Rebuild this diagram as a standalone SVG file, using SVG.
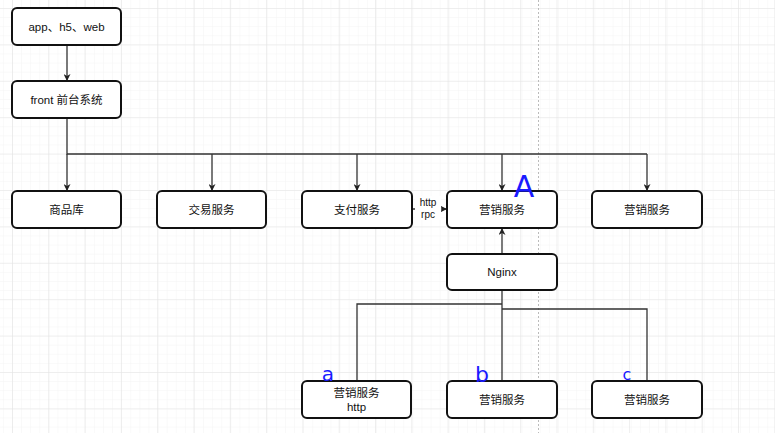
<svg xmlns="http://www.w3.org/2000/svg" width="775" height="433" viewBox="0 0 775 433">
<defs>
<pattern id="minor" x="12" y="8" width="9.1" height="9.1" patternUnits="userSpaceOnUse">
<path d="M0 0H9.1M0 0V9.1" fill="none" stroke="#f4f4f4" stroke-width="1"/>
</pattern>
<pattern id="major" x="12" y="8" width="36.3" height="36.4" patternUnits="userSpaceOnUse">
<path d="M0 0H36.3M0 0V36.4" fill="none" stroke="#e4e4e4" stroke-width="1.2"/>
</pattern>
<marker id="arr" viewBox="0 0 10 10" refX="10" refY="5" markerWidth="7" markerHeight="7" markerUnits="userSpaceOnUse" orient="auto">
<path d="M0 0L10 5L0 10L3 5Z" fill="#222"/>
</marker>
</defs>
<style>
.box{fill:#fff;stroke:#111;stroke-width:2}
.lbl{font-family:"Liberation Sans","Noto Sans CJK SC",sans-serif;font-size:11.5px;fill:#111;text-anchor:middle;dominant-baseline:central}
.small{font-size:10px}
.ln{fill:none;stroke:#333;stroke-width:1.3}
.arrow{marker-end:url(#arr)}
.hand{font-family:"DejaVu Sans",sans-serif;fill:#1a1aff;text-anchor:middle}
</style>
<rect width="775" height="433" fill="#fff"/>
<rect width="775" height="433" fill="url(#minor)"/>
<rect width="775" height="433" fill="url(#major)"/>
<line x1="538.5" y1="0" x2="538.5" y2="433" stroke="#bbb" stroke-width="1" stroke-dasharray="2,2"/>

<g id="connectors">
<path class="ln arrow" d="M67 45V81"/>
<path class="ln" d="M67 118V154H647"/>
<path class="ln arrow" d="M67 154V191"/>
<path class="ln arrow" d="M212 154V191"/>
<path class="ln arrow" d="M357 154V191"/>
<path class="ln arrow" d="M502 154V191"/>
<path class="ln arrow" d="M647 154V191"/>
<path class="ln arrow" d="M412 209H447"/>
<rect x="415" y="196" width="26" height="24" fill="#fff"/>
<text class="lbl small" x="428" y="202">http</text>
<text class="lbl small" x="428" y="214">rpc</text>
<path class="ln arrow" d="M502 254V228"/>
<path class="ln" d="M502 290V381"/>
<path class="ln" d="M502 304H357V381"/>
<path class="ln" d="M502 309H647V381"/>
</g>

<g id="n-client"><rect class="box" x="12" y="8" width="109" height="37" rx="5"/><text class="lbl" x="66.5" y="26.5">app、h5、web</text></g>
<g id="n-front"><rect class="box" x="12" y="81" width="109" height="37" rx="5"/><text class="lbl" x="66.5" y="99.5">front 前台系统</text></g>
<g id="n-goods"><rect class="box" x="12" y="191" width="109" height="37" rx="5"/><text class="lbl" x="66.5" y="209.5">商品库</text></g>
<g id="n-trade"><rect class="box" x="157" y="191" width="109" height="37" rx="5"/><text class="lbl" x="211.5" y="209.5">交易服务</text></g>
<g id="n-pay"><rect class="box" x="302" y="191" width="110" height="37" rx="5"/><text class="lbl" x="357" y="209.5">支付服务</text></g>
<g id="n-mkt-a"><rect class="box" x="447" y="191" width="110" height="37" rx="5"/><text class="lbl" x="502" y="209.5">营销服务</text></g>
<g id="n-mkt-r"><rect class="box" x="592" y="191" width="110" height="37" rx="5"/><text class="lbl" x="647" y="209.5">营销服务</text></g>
<g id="n-nginx"><rect class="box" x="447" y="254" width="110" height="36" rx="5"/><text class="lbl" x="502" y="272">Nginx</text></g>
<g id="n-mkt-1"><rect class="box" x="302" y="381" width="109" height="37" rx="5"/><text class="lbl" x="356.5" y="393">营销服务</text><text class="lbl" x="356.5" y="407">http</text></g>
<g id="n-mkt-2"><rect class="box" x="447" y="381" width="110" height="37" rx="5"/><text class="lbl" x="502" y="399.5">营销服务</text></g>
<g id="n-mkt-3"><rect class="box" x="592" y="381" width="110" height="37" rx="5"/><text class="lbl" x="647" y="399.5">营销服务</text></g>

<g id="annotations">
<text class="hand" x="524" y="197" font-size="30">A</text>
<text class="hand" x="328" y="381" font-size="20">a</text>
<text class="hand" x="482" y="382" font-size="22">b</text>
<text class="hand" x="627" y="380" font-size="16">c</text>
</g>
</svg>
